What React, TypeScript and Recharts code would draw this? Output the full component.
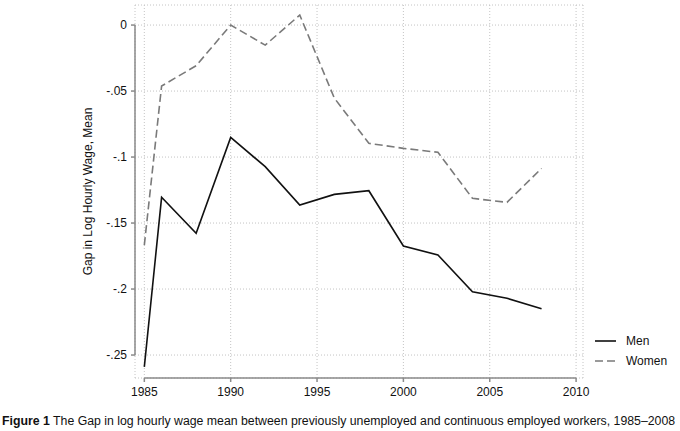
import React from "react";
import {
  LineChart,
  Line,
  XAxis,
  YAxis,
  CartesianGrid,
  Legend,
  ReferenceLine,
  Label,
} from "recharts";

const years = [1985, 1986, 1988, 1990, 1992, 1994, 1996, 1998, 2000, 2002, 2004, 2006, 2008];
const men = [-0.259, -0.1305, -0.1578, -0.0851, -0.1073, -0.1364, -0.1283, -0.1255, -0.1674, -0.1742, -0.202, -0.207, -0.215];
const women = [-0.1667, -0.0462, -0.0308, 0.0, -0.0152, 0.0076, -0.0553, -0.0896, -0.0934, -0.0964, -0.1313, -0.1343, -0.1086];

const xTicks = [1985, 1990, 1995, 2000, 2005, 2010];
const yTicks = [0, -0.05, -0.1, -0.15, -0.2, -0.25];
const yTickLabels = ["0", "-.05", "-.1", "-.15", "-.2", "-.25"];

const X_DOMAIN: [number, number] = [1984.46, 2010.4];
const Y_DOMAIN: [number, number] = [-0.2674, 0.0152];

const FONT = '"Liberation Sans", Arial, Helvetica, sans-serif';
const AXIS_GREY = "#8a8a8a";

const data = years.map((year, i) => ({ year, Men: men[i], Women: women[i] }));

function LegendBox({ payload }: any) {
  return (
    <div style={{ fontFamily: FONT, fontSize: 12, color: "#111" }}>
      {(payload || []).map((entry: any) => (
        <div
          key={entry.value}
          style={{ display: "flex", alignItems: "center", height: 20 }}
        >
          <svg width={22} height={6} style={{ marginRight: 9 }}>
            <line
              x1={0}
              y1={3}
              x2={21}
              y2={3}
              stroke={entry.color}
              strokeWidth={1.6}
              strokeDasharray={entry.payload?.strokeDasharray}
            />
          </svg>
          <span>{entry.value}</span>
        </div>
      ))}
    </div>
  );
}

export default function App() {
  return (
    <div
      style={{
        position: "absolute",
        left: 0,
        top: 0,
        width: 680,
        height: 431,
        background: "#fff",
        fontFamily: FONT,
      }}
    >
      <LineChart
        width={680}
        height={400}
        data={data}
        margin={{ top: 5, right: 97, left: 0, bottom: 0 }}
      >
        <CartesianGrid stroke="#c4c4c4" strokeDasharray="1 2" />
        <XAxis
          dataKey="year"
          type="number"
          domain={X_DOMAIN}
          ticks={xTicks}
          allowDataOverflow
          height={22}
          axisLine={false}
          tickSize={4}
          tickMargin={5}
          tickLine={{ stroke: AXIS_GREY, strokeWidth: 1.5 }}
          tick={{ fontSize: 12, fill: "#111", fontFamily: FONT }}
        />
        <YAxis
          type="number"
          domain={Y_DOMAIN}
          ticks={yTicks}
          allowDataOverflow
          width={135}
          axisLine={false}
          tickSize={4}
          tickMargin={4}
          tickLine={{ stroke: AXIS_GREY, strokeWidth: 1.5 }}
          tick={{ fontSize: 12, fill: "#111", fontFamily: FONT }}
          tickFormatter={(v: number) => yTickLabels[yTicks.indexOf(v)] ?? String(v)}
        >
          <Label
            value="Gap in Log Hourly Wage, Mean"
            angle={-90}
            position="center"
            dx={20}
            style={{ fontSize: 12, fill: "#111", fontFamily: FONT }}
          />
        </YAxis>
        <ReferenceLine
          segment={[
            { x: X_DOMAIN[0], y: yTicks[0] },
            { x: X_DOMAIN[0], y: yTicks[yTicks.length - 1] },
          ]}
          stroke={AXIS_GREY}
          strokeWidth={1.5}
          ifOverflow="visible"
        />
        <ReferenceLine
          segment={[
            { x: xTicks[0], y: Y_DOMAIN[0] },
            { x: xTicks[xTicks.length - 1], y: Y_DOMAIN[0] },
          ]}
          stroke={AXIS_GREY}
          strokeWidth={1.5}
          ifOverflow="visible"
        />
        <Line
          dataKey="Men"
          type="linear"
          stroke="#111"
          strokeWidth={1.6}
          dot={false}
          isAnimationActive={false}
        />
        <Line
          dataKey="Women"
          type="linear"
          stroke="#7a7a7a"
          strokeWidth={1.6}
          strokeDasharray="8 4"
          dot={false}
          isAnimationActive={false}
        />
        <Legend
          content={<LegendBox />}
          layout="horizontal"
          verticalAlign="middle"
          align="center"
          wrapperStyle={{ left: 595, top: 331, width: 85 }}
        />
      </LineChart>
      <div
        style={{
          position: "absolute",
          left: 2,
          top: 414,
          fontSize: 12.3,
          color: "#111",
          whiteSpace: "nowrap",
        }}
      >
        <b>Figure 1</b> The Gap in log hourly wage mean between previously unemployed and
        continuous employed workers, 1985–2008
      </div>
    </div>
  );
}
